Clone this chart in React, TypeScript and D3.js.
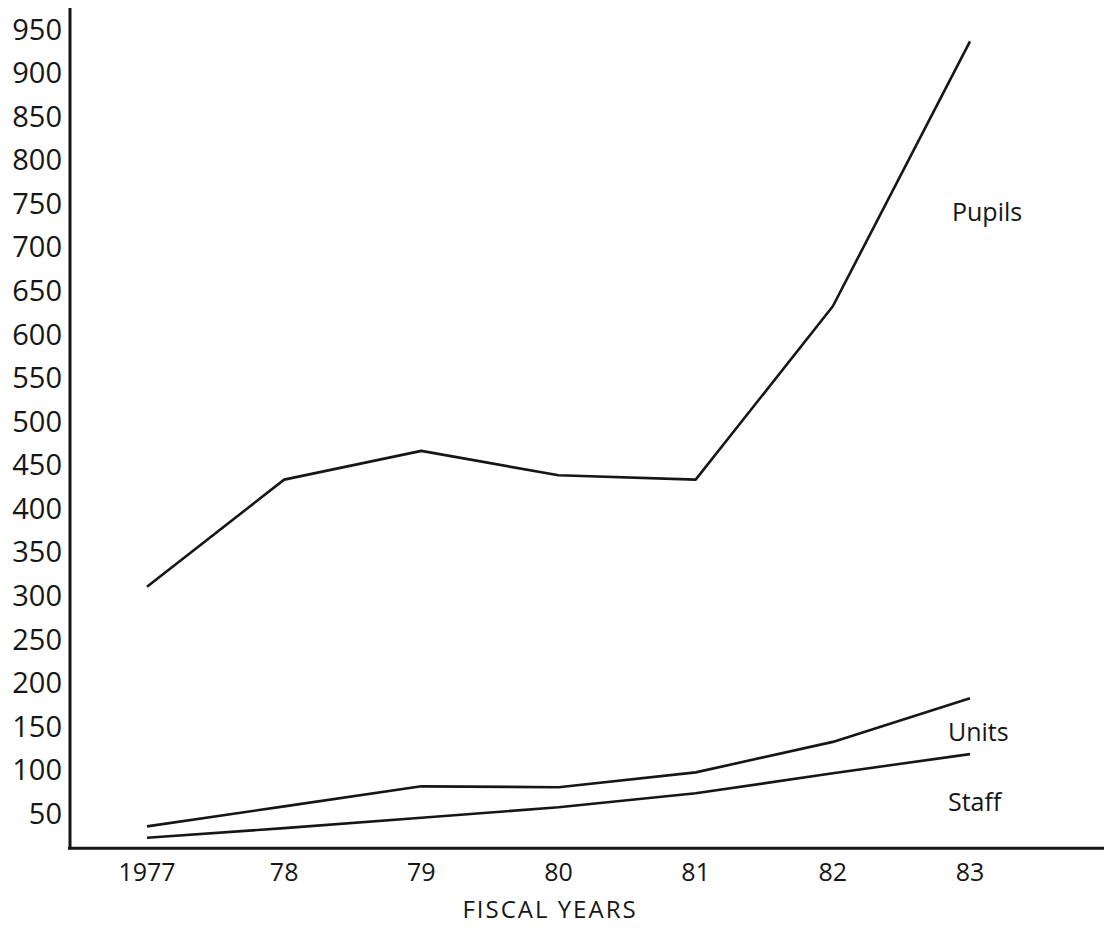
import React from "react";
import * as d3 from "d3";

const years = ["1977", "78", "79", "80", "81", "82", "83"];
const pupils = [310, 433, 466, 438, 433, 632, 936];
const units = [35, 58, 81, 80, 97, 132, 182];
const staff = [22, 33, 45, 57, 73, 96, 118];
const yTicks = [50, 100, 150, 200, 250, 300, 350, 400, 450, 500, 550, 600, 650, 700, 750, 800, 850, 900, 950];
const seriesLabels = [
  { name: "Pupils", value: 740, x: 952 },
  { name: "Units", value: 143, x: 948 },
  { name: "Staff", value: 63, x: 948 },
];

const W = 1104;
const H = 929;

export default function App() {
  const x = d3.scalePoint<string>().domain(years).range([147, 970]);
  const y = d3.scaleLinear().domain([0, 950]).range([856.9, 29.2]);
  const line = d3
    .line<number>()
    .x((_, i) => x(years[i]) as number)
    .y((d) => y(d));
  const axisY = y(10);
  const font = "'Open Sans', 'DejaVu Sans', sans-serif";
  const ink = "#161616";

  return (
    <svg
      width={W}
      height={H}
      style={{ position: "absolute", left: 0, top: 0, background: "#fff" }}
      fontFamily={font}
    >
      <rect width={W} height={H} fill="#fff" />
      {/* axes */}
      <line x1={70} x2={70} y1={8} y2={axisY + 1} stroke={ink} strokeWidth={3} />
      <line x1={68} x2={W} y1={axisY} y2={axisY} stroke={ink} strokeWidth={3} />
      {/* y tick labels */}
      {yTicks.map((t) => (
        <text
          key={t}
          x={62}
          y={y(t)}
          dy="0.36em"
          textAnchor="end"
          fontSize={29}
          fill={ink}
        >
          {t}
        </text>
      ))}
      {/* x tick labels */}
      {years.map((yr) => (
        <text
          key={yr}
          x={x(yr)}
          y={881}
          textAnchor="middle"
          fontSize={25}
          fill={ink}
        >
          {yr}
        </text>
      ))}
      <text x={550} y={918} textAnchor="middle" fontSize={24} letterSpacing={2} fill={ink}>
        FISCAL YEARS
      </text>
      {/* lines */}
      {[pupils, units, staff].map((s, i) => (
        <path
          key={i}
          d={line(s) as string}
          fill="none"
          stroke={ink}
          strokeWidth={2.6}
          strokeLinejoin="round"
        />
      ))}
      {seriesLabels.map((l) => (
        <text key={l.name} x={l.x} y={y(l.value)} dy="0.36em" fontSize={25} fill={ink}>
          {l.name}
        </text>
      ))}
    </svg>
  );
}
